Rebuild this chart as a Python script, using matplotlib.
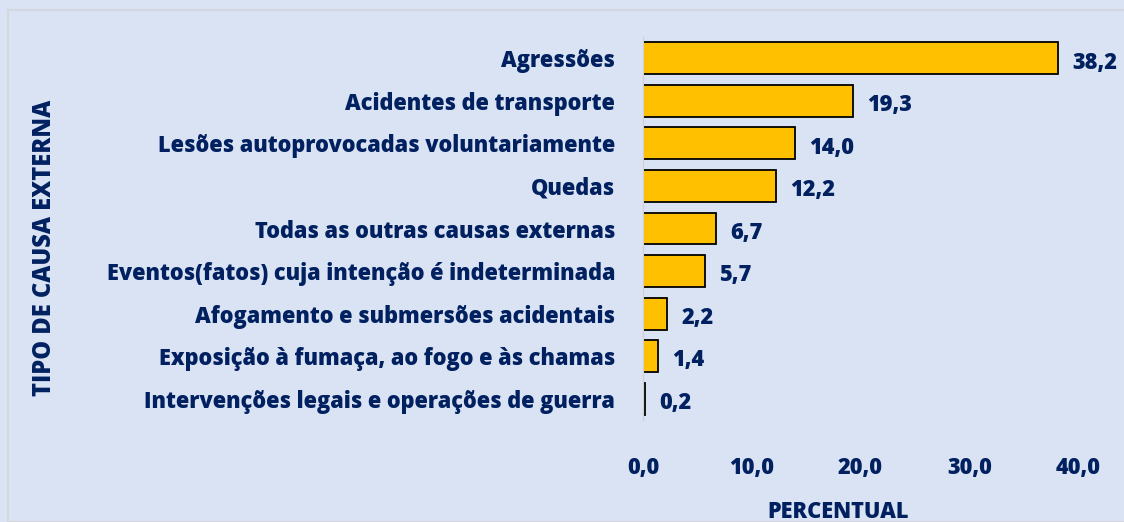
import matplotlib.pyplot as plt
from matplotlib.patches import Rectangle

categories = ['Agressões', 'Acidentes de transporte', 'Lesões autoprovocadas voluntariamente',
              'Quedas', 'Todas as outras causas externas',
              'Eventos(fatos) cuja intenção é indeterminada', 'Afogamento e submersões acidentais',
              'Exposição à fumaça, ao fogo e às chamas', 'Intervenções legais e operações de guerra']
values = [38.2, 19.3, 14.0, 12.2, 6.7, 5.7, 2.2, 1.4, 0.2]
xticks = [0, 10, 20, 30, 40]

bg = '#DAE3F3'
txt = '#002060'
fw = 800
fs = 15.7
plt.rcParams['font.family'] = ['Open Sans', 'DejaVu Sans']

fig = plt.figure(figsize=(11.24, 5.22), dpi=100, facecolor=bg)
fig.patches.append(Rectangle((8 / 1124, 0), 1.1, 1 - 10 / 522, transform=fig.transFigure,
                             facecolor='none', edgecolor='#D3D8DF', linewidth=1.5))
ax = fig.add_axes([643 / 1124, 1 - 420 / 522, (1078 - 643) / 1124, (420 - 37) / 522])
ax.set_facecolor(bg)

ypos = list(range(len(categories)))
ax.barh(ypos, values, height=0.75, color='#FFC000', edgecolor='black', linewidth=1.3)
ax.set_ylim(len(categories) - 0.5, -0.5)
ax.set_xlim(0, 40)
ax.set_yticks(ypos)
ax.set_yticklabels(categories, fontsize=fs, fontweight=fw, color=txt)
ax.set_xticks(xticks)
ax.set_xticklabels(['{:.1f}'.format(t).replace('.', ',') for t in xticks],
                   fontsize=fs, fontweight=fw, color=txt)
ax.tick_params(axis='both', length=0)
ax.tick_params(axis='x', pad=26)
ax.tick_params(axis='y', pad=20)
for s in ['top', 'right', 'bottom']:
    ax.spines[s].set_visible(False)
ax.spines['left'].set_color('#D0D0D0')

for y, v in zip(ypos, values):
    ax.text(v + 1.3, y + 0.1, '{:.1f}'.format(v).replace('.', ','), va='center', ha='left',
            fontsize=fs, fontweight=fw, color=txt, clip_on=False)

fig.text(838 / 1124, 1 - 512 / 522, 'PERCENTUAL', ha='center', va='center',
         fontsize=fs, fontweight=fw, color=txt)
fig.text(45 / 1124, 1 - 248 / 522, 'TIPO DE CAUSA EXTERNA', ha='center', va='center',
         rotation=90, fontsize=17, fontweight=fw, color=txt)

plt.savefig('out.png', dpi=100, facecolor=bg)
